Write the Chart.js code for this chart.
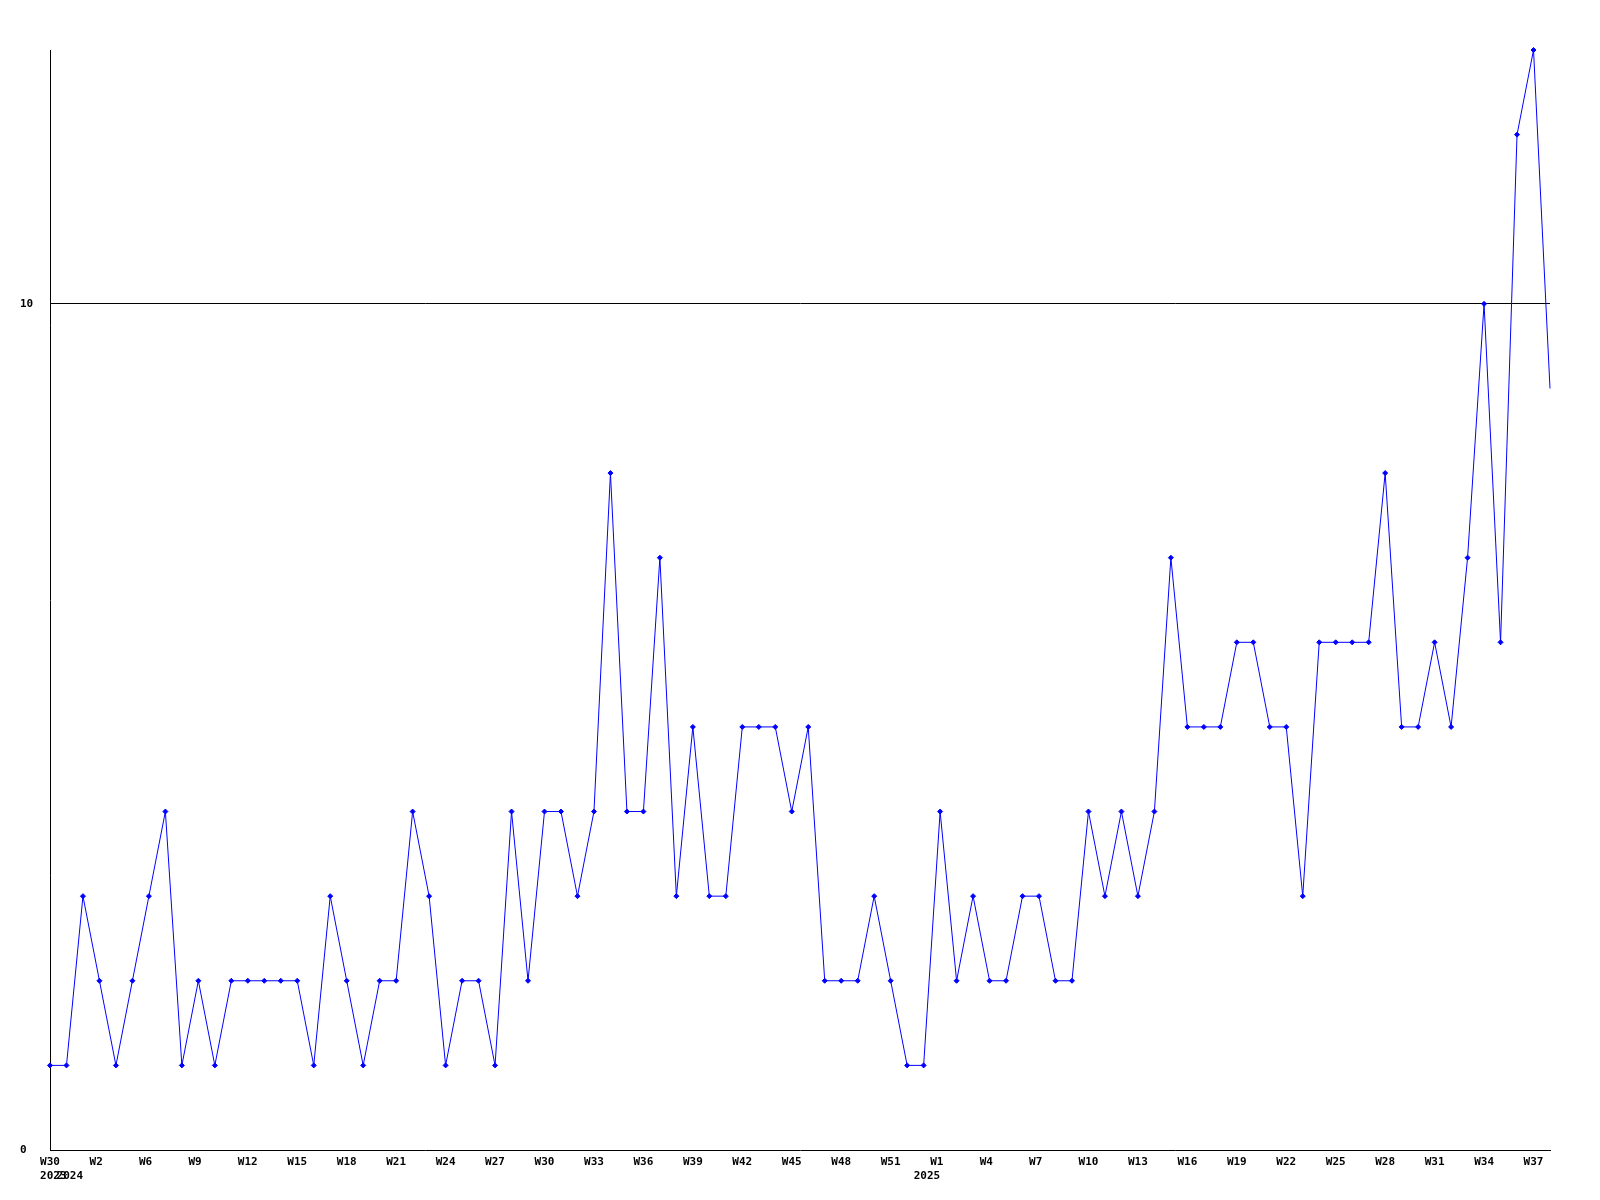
<!DOCTYPE html>
<html>
<head>
<meta charset="utf-8">
<script src="https://cdn.jsdelivr.net/npm/chart.js@4.4.1/dist/chart.umd.min.js"></script>
<style>
  html, body { margin: 0; padding: 0; background: #ffffff; }
  canvas { display: block; }
</style>
</head>
<body>
<canvas id="c" width="1600" height="1200"></canvas>
<script>
// Weekly values, one per point (first point at left edge, last at right edge)
const values = [
  1, 1, 3, 2, 1, 2, 3, 4, 1, 2,
  1, 2, 2, 2, 2, 2, 1, 3, 2, 1,
  2, 2, 4, 3, 1, 2, 2, 1, 4, 2,
  4, 4, 3, 4, 8, 4, 4, 7, 3, 5,
  3, 3, 5, 5, 5, 4, 5, 2, 2, 2,
  3, 2, 1, 1, 4, 2, 3, 2, 2, 3,
  3, 2, 2, 4, 3, 4, 3, 4, 7, 5,
  5, 5, 6, 6, 5, 5, 3, 6, 6, 6,
  6, 8, 5, 5, 6, 5, 7, 10, 6, 12,
  13, 9
];
// Category index of each point
const categories = values.map((v, i) => i);

// Week tick labels, one every 3rd point
const tickStep = 3;
const weekLabels = ['W30','W2','W6','W9','W12','W15','W18','W21','W24','W27','W30',
  'W33','W36','W39','W42','W45','W48','W51','W1','W4','W7','W10','W13','W16',
  'W19','W22','W25','W28','W31','W34','W37'];
// Year labels and the point index they sit under
const yearLabels = ['2023', '2024', '2025'];
const yearIndex = [0, 1, 53];

// Y axis
const yMin = 0, yMax = 13;
const yTicks = [0, 10];

const BLUE = '#0000ff';
const FONT = { family: "'DejaVu Sans Mono', 'Liberation Mono', monospace", size: 11, weight: 'bold', lineHeight: 14 / 11 };

new Chart(document.getElementById('c'), {
  type: 'line',
  data: {
    labels: categories,
    datasets: [{
      data: values,
      borderColor: BLUE,
      borderWidth: 1,
      backgroundColor: BLUE,
      pointBackgroundColor: BLUE,
      pointBorderColor: BLUE,
      pointStyle: 'rectRot',
      pointRadius: values.map((v, i) => i === values.length - 1 ? 0 : 2.5),
      pointBorderWidth: 1,
      tension: 0,
      fill: false,
      clip: false
    }]
  },
  options: {
    responsive: false,
    animation: false,
    devicePixelRatio: 1,
    layout: { padding: { left: 20, top: 50, right: 50, bottom: 0 } },
    plugins: { legend: { display: false }, tooltip: { enabled: false } },
    scales: {
      x: {
        type: 'category',
        offset: false,
        grid: { display: true, drawOnChartArea: false, drawTicks: false, tickLength: 0, color: 'rgba(0,0,0,0)' },
        border: { display: true, color: '#000000', width: 1 },
        afterFit: (s) => { s.height = 50; },
        ticks: {
          autoSkip: false,
          maxRotation: 0,
          minRotation: 0,
          padding: 5,
          color: '#000000',
          font: FONT,
          callback: function (value, index) {
            let w = '';
            if (index % tickStep === 0 && weekLabels[index / tickStep] !== undefined) {
              w = weekLabels[index / tickStep].padEnd(3, ' ');
            }
            const yi = yearIndex.indexOf(index);
            if (yi >= 0) return [w, ' ' + yearLabels[yi]];
            return w;
          }
        }
      },
      y: {
        min: yMin,
        max: yMax,
        afterBuildTicks: (s) => { s.ticks = yTicks.map(v => ({ value: v })); },
        afterFit: (s) => { s.width = 30; },
        grid: {
          drawTicks: false,
          tickLength: 0,
          color: (ctx) => (ctx.tick && ctx.tick.value === 10) ? '#000000' : 'rgba(0,0,0,0)',
          lineWidth: 1
        },
        border: { display: true, color: '#000000', width: 1 },
        ticks: {
          crossAlign: 'far',
          padding: 0,
          color: '#000000',
          font: FONT
        }
      }
    }
  }
});
</script>
</body>
</html>
